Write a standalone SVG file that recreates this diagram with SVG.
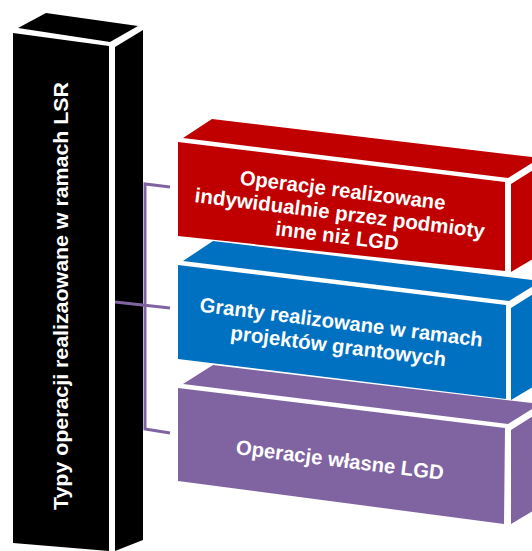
<svg xmlns="http://www.w3.org/2000/svg" width="532" height="551" viewBox="0 0 532 551">
  <style>
    .lbl { font-family: "Liberation Sans", Arial, sans-serif; font-weight: bold; font-size: 20.5px; fill: #ffffff; text-anchor: middle; }
    .col { font-family: "Liberation Sans", Arial, sans-serif; font-weight: bold; font-size: 21px; fill: #ffffff; text-anchor: middle; }
    .conn { fill: none; stroke: #8064A2; stroke-width: 3; stroke-linejoin: miter; }
    .red { fill: #C00000; }
    .blue { fill: #0070C0; }
    .purple { fill: #8064A2; }
    .black { fill: #000000; }
  </style>
  <rect width="532" height="551" fill="#ffffff"/>

  <g id="column">
    <polygon class="black" points="18,28 110,42 138,26 46,13"/>
    <polygon class="black" points="13,33 109,46 109,551 13,543"/>
    <polygon class="black" points="115,47 143,30 143,540 115,551"/>
    <text class="col" transform="translate(68,296) rotate(-90)" textLength="428" lengthAdjust="spacingAndGlyphs">Typy operacji realizaowane w ramach LSR</text>
  </g>

  <g id="connectors">
    <path class="conn" d="M170,187 L145,184 L145,429 L170,433"/>
    <path class="conn" d="M115,302 L170,308"/>
  </g>

  <g id="box-purple">
    <polygon class="purple" points="183,384 508,424 540,404 213,365"/>
    <polygon class="purple" points="178,388 505,428 504,524 178,481"/>
    <polygon class="purple" points="511,430 541,411 541,506 511,524"/>
    <text class="lbl" transform="translate(339,467) rotate(7.1)" textLength="209" lengthAdjust="spacingAndGlyphs">Operacje własne LGD</text>
  </g>

  <g id="box-blue">
    <polygon class="blue" points="183,261 509,301 541,281 213,241"/>
    <polygon class="blue" points="178,265 506,305 506,399 178,359"/>
    <polygon class="blue" points="511,308 541,289 541,382 511,400"/>
    <g transform="translate(339,341) rotate(7.1)">
      <text class="lbl" x="0" y="-12" textLength="285" lengthAdjust="spacingAndGlyphs">Granty realizowane w ramach</text>
      <text class="lbl" x="0" y="12" textLength="217" lengthAdjust="spacingAndGlyphs">projektów grantowych</text>
    </g>
  </g>

  <g id="box-red">
    <polygon class="red" points="183,138 508,178 540,158 212,119"/>
    <polygon class="red" points="178,142 505,182 505,271 178,236"/>
    <polygon class="red" points="511,184 541,165 541,254 511,272"/>
    <g transform="translate(339,220) rotate(7.1)">
      <text class="lbl" x="0" y="-23" textLength="207" lengthAdjust="spacingAndGlyphs">Operacje realizowane</text>
      <text class="lbl" x="0" y="0" textLength="292" lengthAdjust="spacingAndGlyphs">indywidualnie przez podmioty</text>
      <text class="lbl" x="0" y="23" textLength="124" lengthAdjust="spacingAndGlyphs">inne niż LGD</text>
    </g>
  </g>
</svg>
